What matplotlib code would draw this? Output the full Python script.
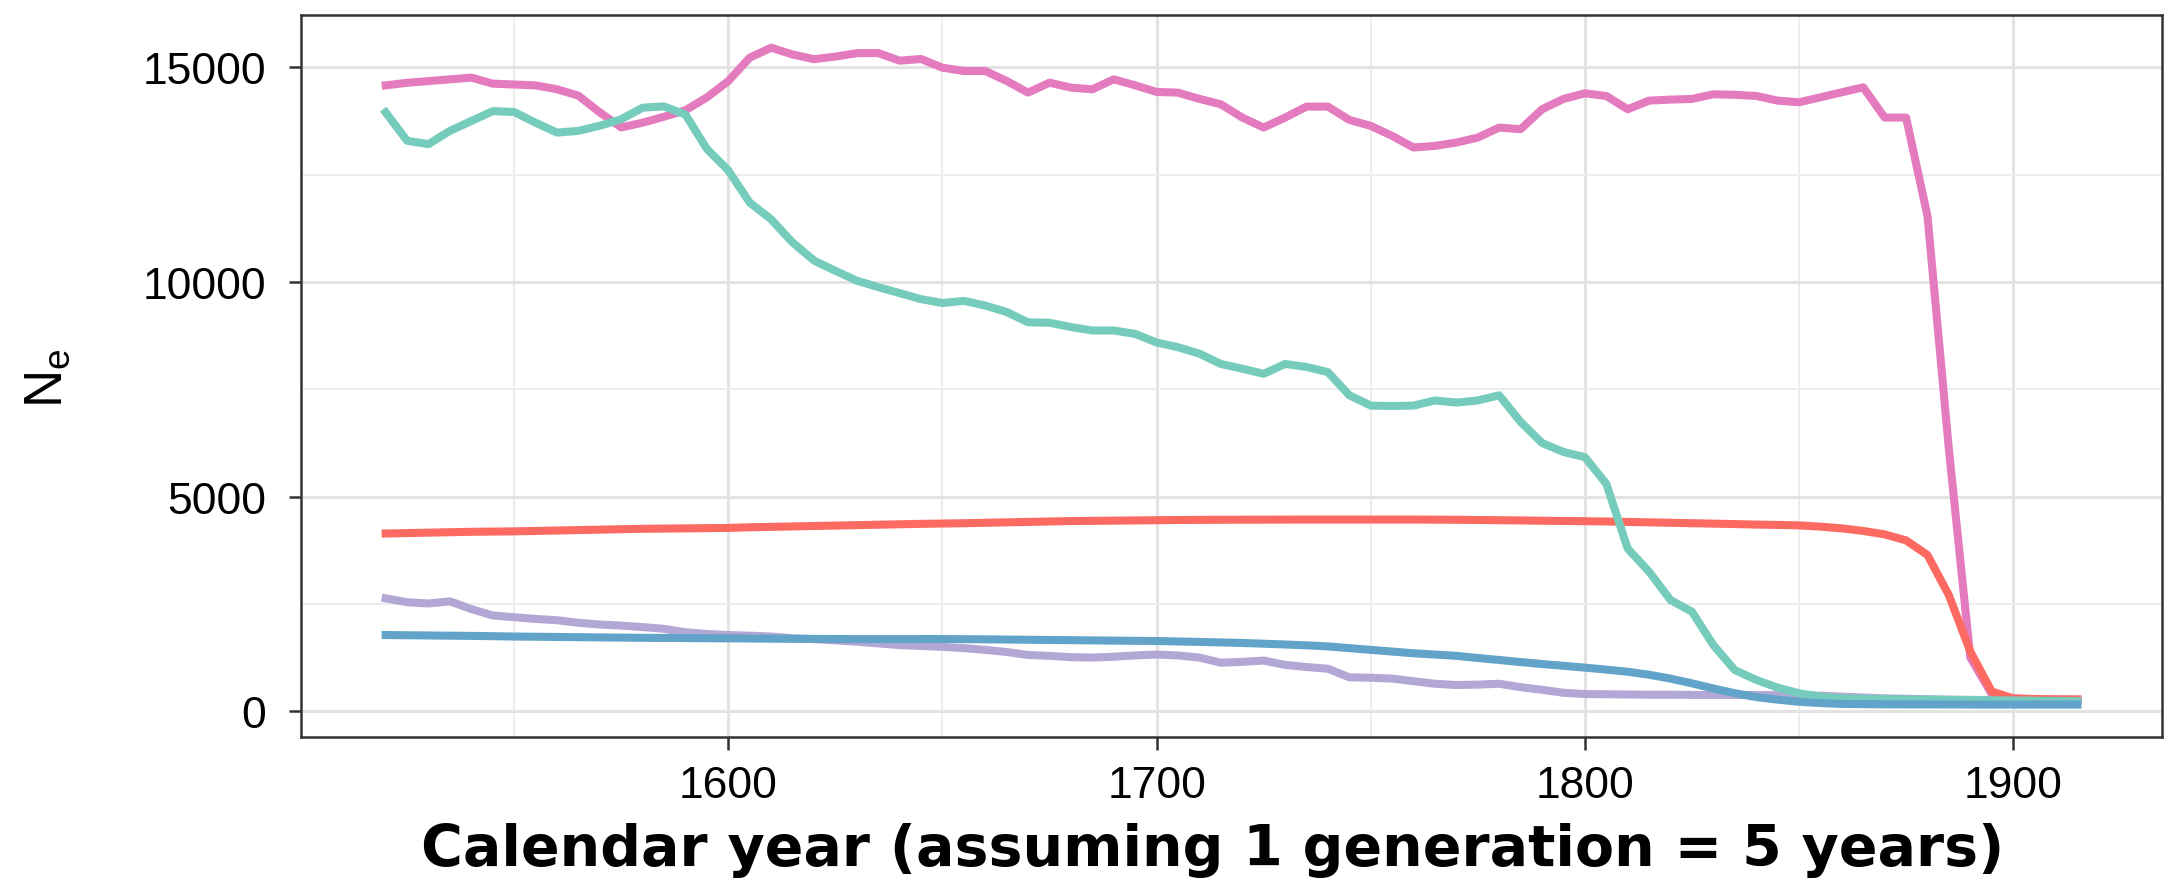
import matplotlib
matplotlib.use("Agg")
import matplotlib.pyplot as plt
from matplotlib.ticker import MultipleLocator

plt.rcParams['font.family'] = ['Liberation Sans', 'DejaVu Sans']
plt.rcParams['mathtext.default'] = 'regular'

# calendar years, one point per generation (5 years)
years = list(range(1520, 1920, 5))

pink = [14580, 14640, 14680, 14720, 14760, 14620, 14600, 14580, 14490, 14340,
        13950, 13600, 13710, 13850, 14000, 14300, 14680, 15225, 15457, 15300,
        15190, 15250, 15330, 15333, 15155, 15194, 14992, 14915, 14915, 14682,
        14411, 14643, 14527, 14488, 14721, 14581, 14426, 14411, 14264, 14140,
        13830, 13597, 13830, 14085, 14085, 13776, 13636, 13403, 13132, 13170,
        13248, 13364, 13597, 13558, 14023, 14264, 14395, 14333, 14023, 14225,
        14248, 14264, 14372, 14360, 14333, 14225, 14186, 14302, 14419, 14535,
        13830, 13830, 11535, 6100, 1250, 400, 300, 270, 260, 250]

teal = [13950, 13290, 13210, 13520, 13750, 13980, 13960, 13710, 13480, 13520,
        13640, 13790, 14060, 14090, 13900, 13100, 12600, 11850, 11460, 10920,
        10500, 10260, 10030, 9880, 9740, 9600, 9510, 9560, 9450, 9300,
        9060, 9050, 8950, 8870, 8870, 8790, 8590, 8480, 8330, 8090,
        7980, 7860, 8090, 8020, 7900, 7360, 7120, 7110, 7120, 7240,
        7190, 7240, 7360, 6740, 6250, 6040, 5920, 5300, 3790, 3250,
        2590, 2320, 1540, 960, 730, 550, 420, 340, 300, 290,
        280, 275, 270, 265, 260, 255, 250, 245, 240, 235]

red = [4140, 4150, 4160, 4170, 4180, 4185, 4190, 4200, 4210, 4220,
       4230, 4240, 4250, 4255, 4260, 4265, 4270, 4285, 4295, 4305,
       4315, 4325, 4335, 4345, 4355, 4365, 4372, 4380, 4390, 4400,
       4410, 4420, 4430, 4435, 4440, 4445, 4450, 4455, 4458, 4460,
       4462, 4463, 4464, 4465, 4465, 4465, 4465, 4465, 4465, 4463,
       4460, 4455, 4450, 4445, 4438, 4432, 4427, 4420, 4410, 4400,
       4390, 4380, 4370, 4360, 4348, 4340, 4330, 4300, 4260, 4200,
       4120, 3980, 3640, 2700, 1390, 460, 300, 285, 280, 278]

purple = [2630, 2540, 2510, 2560, 2380, 2230, 2190, 2150, 2120, 2060,
          2020, 1995, 1960, 1920, 1840, 1800, 1775, 1760, 1740, 1700,
          1680, 1650, 1620, 1580, 1540, 1520, 1500, 1470, 1430, 1380,
          1310, 1290, 1260, 1250, 1270, 1300, 1320, 1300, 1250, 1130,
          1150, 1180, 1080, 1030, 990, 790, 780, 760, 700, 640,
          610, 620, 640, 560, 500, 430, 400, 395, 390, 385,
          385, 380, 380, 380, 378, 375, 370, 360, 340, 320,
          300, 290, 280, 270, 265, 260, 255, 250, 245, 240]

blue = [1775, 1770, 1765, 1760, 1755, 1748, 1740, 1735, 1730, 1725,
        1720, 1715, 1710, 1707, 1705, 1700, 1698, 1694, 1690, 1687,
        1685, 1682, 1680, 1680, 1680, 1681, 1682, 1678, 1675, 1670,
        1665, 1660, 1655, 1650, 1645, 1640, 1636, 1625, 1615, 1603,
        1590, 1573, 1555, 1535, 1510, 1470, 1430, 1390, 1350, 1320,
        1290, 1240, 1194, 1145, 1100, 1058, 1016, 970, 920, 850,
        760, 650, 530, 420, 330, 270, 220, 190, 170, 165,
        160, 159, 158, 157, 156, 155, 155, 155, 155, 155]

fig = plt.figure(figsize=(21.77, 8.87), dpi=100)
ax = fig.add_axes([0.1383, 0.168, 0.8548, 0.814])

lw = 5.8
ax.plot(years, pink, color='#E47BBE', lw=lw, zorder=3)
ax.plot(years, purple, color='#B3A8D5', lw=lw, zorder=4)
ax.plot(years, red, color='#FC6A62', lw=lw, zorder=5)
ax.plot(years, teal, color='#76CCBC', lw=lw, zorder=6)
ax.plot(years, blue, color='#62A3C9', lw=lw, zorder=7)

ax.set_xlim(1500.25, 1934.75)
ax.set_ylim(-600, 16220)
ax.xaxis.set_major_locator(MultipleLocator(100))
ax.xaxis.set_minor_locator(MultipleLocator(50))
ax.yaxis.set_major_locator(MultipleLocator(5000))
ax.yaxis.set_minor_locator(MultipleLocator(2500))

ax.grid(which='major', color='#E3E3E3', lw=2.2, zorder=0)
ax.grid(which='minor', color='#EDEDED', lw=1.4, zorder=0)
ax.set_axisbelow(True)

for s in ax.spines.values():
    s.set_color('#333333')
    s.set_linewidth(1.8)

ax.tick_params(which='major', length=9, width=1.8, color='#333333',
               labelsize=32, labelcolor='black')
ax.tick_params(axis='x', which='major', pad=11)
ax.tick_params(axis='y', which='major', pad=16)
ax.tick_params(which='minor', length=0)

ax.set_xlabel('Calendar year (assuming 1 generation = 5 years)',
              fontsize=41, fontweight='bold', family=['DejaVu Sans'])
ax.xaxis.set_label_coords(0.49, -0.118)

fig.text(48 / 2177, 1 - 378 / 887, 'N$_e$', rotation=90, fontsize=38,
         ha='center', va='center')

fig.savefig('out.png', dpi=100)
